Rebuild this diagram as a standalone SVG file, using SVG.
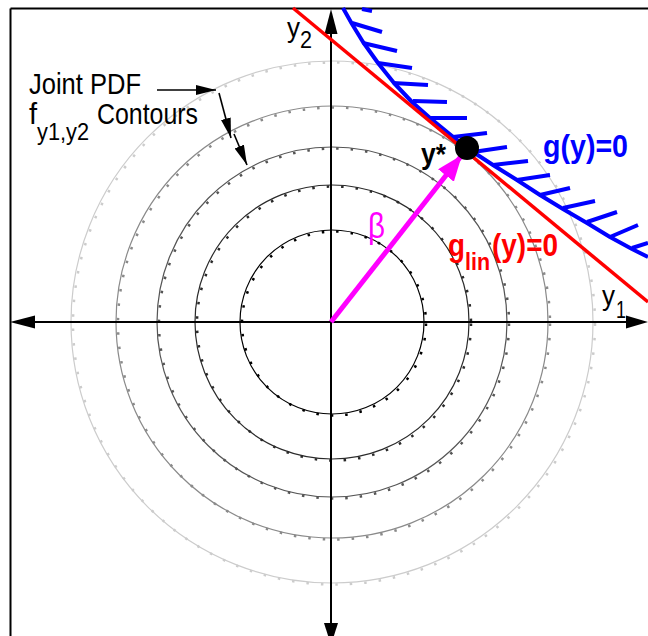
<svg xmlns="http://www.w3.org/2000/svg" width="648" height="636" viewBox="0 0 648 636">
<style>
.t{font-family:"Liberation Sans",Arial,sans-serif;}
.b{font-weight:bold;}
.ax{stroke:#000;stroke-width:2;fill:none;}
.c{fill:none;stroke-width:1.2;}
.tk{fill:none;stroke-width:2.5;stroke-dasharray:2.5 12;}
.h{stroke:#0000ff;stroke-width:4;stroke-linecap:butt;}
</style>
<defs>
<marker id="ah" markerUnits="userSpaceOnUse" markerWidth="22" markerHeight="12" refX="20" refY="5" orient="auto">
<path d="M0,0 L20,5 L0,10 Z" fill="#000"/>
</marker>
<marker id="mh" markerUnits="userSpaceOnUse" markerWidth="28" markerHeight="22" refX="26" refY="10" orient="auto">
<path d="M0,0 L26,10 L0,20 Z" fill="#ff00ff"/>
</marker>
</defs>
<rect width="648" height="636" fill="#fff"/>
<g id="frame">
<line x1="10.5" y1="8.5" x2="648" y2="8.5" class="ax"/>
<line x1="10.5" y1="8.5" x2="10.5" y2="636" class="ax"/>
</g>
<g id="contours">
<circle cx="332" cy="322" r="261" class="c" stroke="#cccccc"/>
<circle cx="334" cy="323.5" r="261" class="tk" stroke="#cccccc"/>
<circle cx="332" cy="322" r="216" class="c" stroke="#8a8a8a"/>
<circle cx="334" cy="323.5" r="216" class="tk" stroke="#8a8a8a"/>
<circle cx="332" cy="322" r="175" class="c" stroke="#555"/>
<circle cx="334" cy="323.5" r="175" class="tk" stroke="#555"/>
<circle cx="332" cy="322" r="137" class="c" stroke="#2a2a2a"/>
<circle cx="334" cy="323.5" r="137" class="tk" stroke="#2a2a2a"/>
<circle cx="332" cy="322" r="92" class="c" stroke="#000"/>
<circle cx="334" cy="323.5" r="92" class="tk" stroke="#000"/>
</g>
<g id="axes">
<line x1="35" y1="322" x2="627" y2="322" class="ax"/>
<line x1="331" y1="33" x2="331" y2="623" class="ax"/>
<path d="M331,9 L337.5,34 L324.5,34 Z" fill="#000"/>
<path d="M648,322 L626,328.5 L626,315.5 Z" fill="#000"/>
<path d="M10,322 L35,315.5 L35,328.5 Z" fill="#000"/>
<path d="M331,645 L324,623 L338,623 Z" fill="#000"/>
</g>
<g id="g-curve">
<path d="M343,8 L352,24 L363,42 L378,63 L394,83 L412,102 L430,118 L452,136 L467,148 L493,165 L517,180 L540,195 L563,209 L587,223 L610,237 L632,249 L648,257" fill="none" stroke="#0000ff" stroke-width="4" stroke-linejoin="round"/>
<line x1="362" y1="9" x2="372" y2="11" class="h"/>
<line x1="352" y1="23" x2="382" y2="32" class="h"/>
<line x1="363" y1="43" x2="397" y2="51" class="h"/>
<line x1="378" y1="63" x2="412" y2="68" class="h"/>
<line x1="393" y1="83" x2="428" y2="85" class="h"/>
<line x1="413" y1="101" x2="447" y2="102" class="h"/>
<line x1="430" y1="118" x2="467" y2="118" class="h"/>
<line x1="453" y1="137" x2="487" y2="133" class="h"/>
<line x1="473" y1="152" x2="507" y2="147" class="h"/>
<line x1="493" y1="165" x2="528" y2="161" class="h"/>
<line x1="517" y1="180" x2="550" y2="175" class="h"/>
<line x1="540" y1="195" x2="570" y2="188" class="h"/>
<line x1="563" y1="208" x2="595" y2="201" class="h"/>
<line x1="587" y1="222" x2="617" y2="212" class="h"/>
<line x1="610" y1="237" x2="638" y2="225" class="h"/>
<line x1="632" y1="248" x2="648" y2="243" class="h"/>
</g>
<g id="g-lin">
<line x1="293" y1="8" x2="648" y2="302" stroke="#ff0000" stroke-width="3.5"/>
</g>
<g id="connectors">
<line x1="157" y1="90" x2="216" y2="90" stroke="#000" stroke-width="1.6" marker-end="url(#ah)"/>
<line x1="219" y1="93" x2="231" y2="138" stroke="#000" stroke-width="1.6" marker-end="url(#ah)"/>
<line x1="234" y1="134" x2="247" y2="165" stroke="#000" stroke-width="1.6" marker-end="url(#ah)"/>
<line x1="331" y1="322" x2="462" y2="155" stroke="#ff00ff" stroke-width="5" marker-end="url(#mh)"/>
</g>
<g id="ystar">
<circle cx="467" cy="148" r="12" fill="#000"/>
</g>
<g id="labels">
<text class="t" x="29" y="94" font-size="29" textLength="112" lengthAdjust="spacingAndGlyphs">Joint PDF</text>
<text class="t" x="29" y="124" font-size="29">f</text>
<text class="t" x="37" y="140" font-size="24" textLength="52" lengthAdjust="spacingAndGlyphs">y1,y2</text>
<text class="t" x="97" y="124" font-size="29" textLength="101" lengthAdjust="spacingAndGlyphs">Contours</text>
<text class="t" x="287" y="37" font-size="28" textLength="13" lengthAdjust="spacingAndGlyphs">y</text>
<text class="t" x="300" y="48" font-size="23" textLength="12" lengthAdjust="spacingAndGlyphs">2</text>
<text class="t" x="602" y="305" font-size="28" textLength="13" lengthAdjust="spacingAndGlyphs">y</text>
<text class="t" x="616" y="318" font-size="23" textLength="10" lengthAdjust="spacingAndGlyphs">1</text>
<text class="t b" x="421" y="164" font-size="30" textLength="25" lengthAdjust="spacingAndGlyphs">y*</text>
<text class="t" x="368" y="238" font-size="35" fill="#ff00ff" textLength="17" lengthAdjust="spacingAndGlyphs">β</text>
<text class="t b" x="543" y="157" font-size="31" fill="#0000ff" textLength="85" lengthAdjust="spacingAndGlyphs">g(y)=0</text>
<text class="t b" x="448" y="256" font-size="31" fill="#ff0000" textLength="17" lengthAdjust="spacingAndGlyphs">g</text>
<text class="t b" x="465" y="270" font-size="23" fill="#ff0000" textLength="25" lengthAdjust="spacingAndGlyphs">lin</text>
<text class="t b" x="492" y="256" font-size="31" fill="#ff0000" textLength="66" lengthAdjust="spacingAndGlyphs">(y)=0</text>
</g>
</svg>
